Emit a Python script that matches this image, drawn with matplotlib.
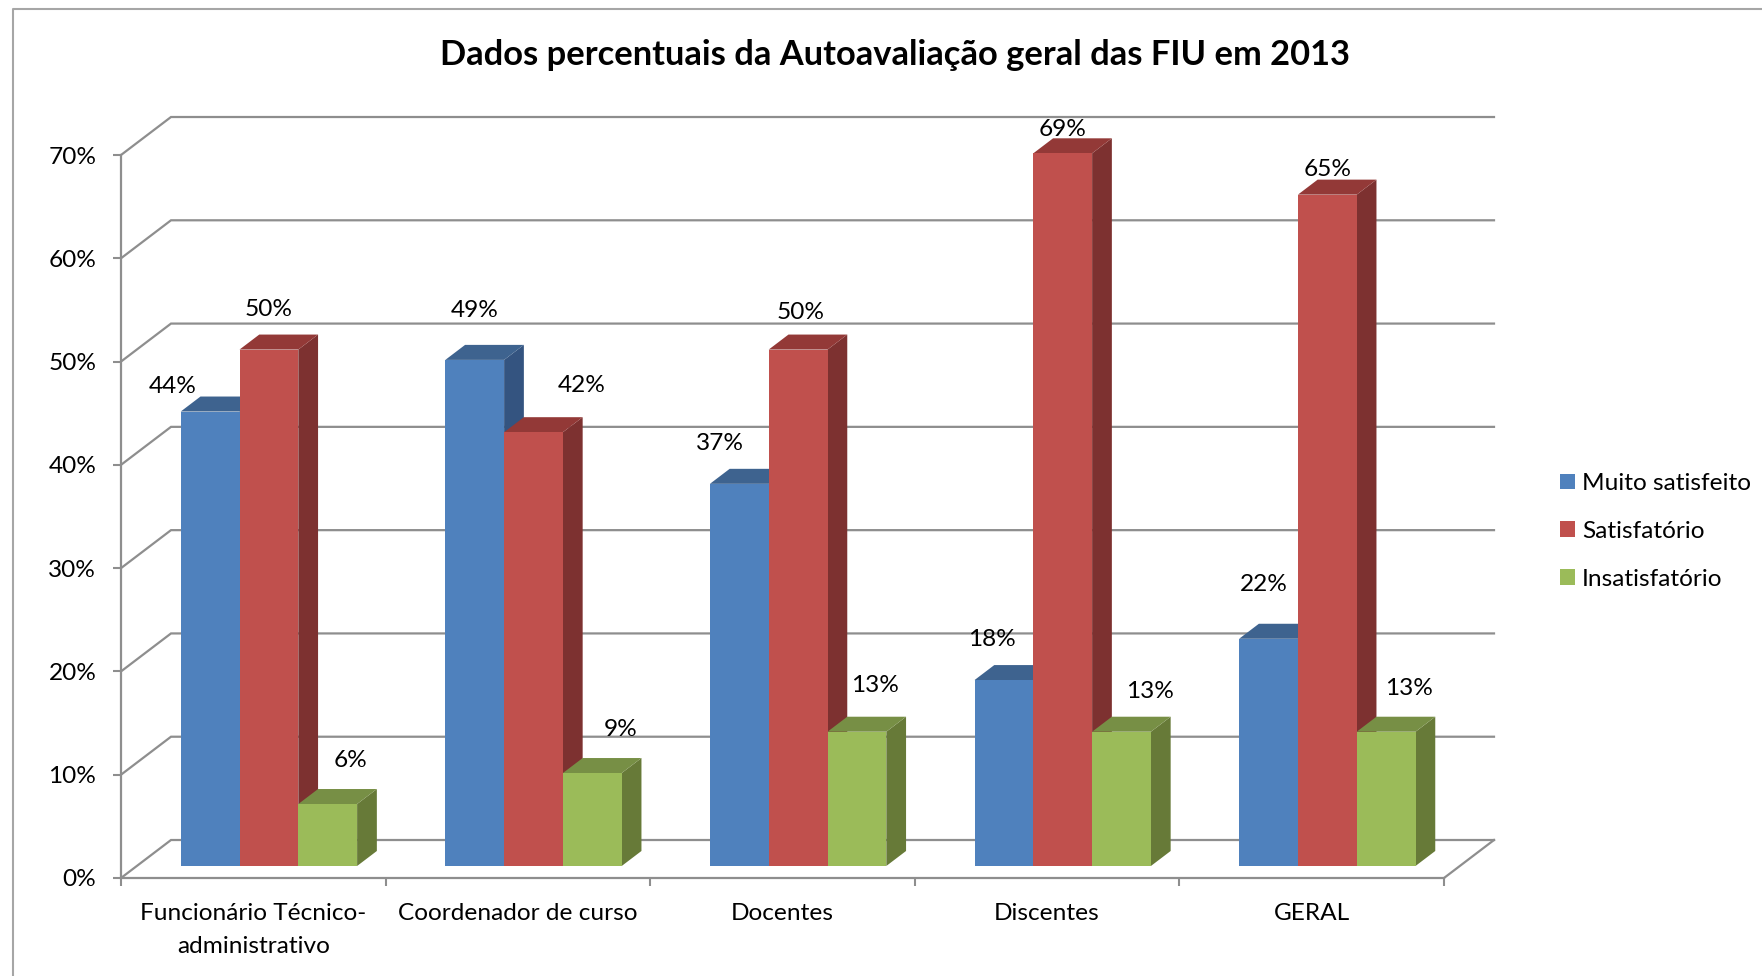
import matplotlib
matplotlib.use('Agg')
import matplotlib.pyplot as plt
from matplotlib.lines import Line2D
from matplotlib.patches import Patch

plt.rcParams['font.family'] = ['Lato', 'DejaVu Sans']

# Data
categories = ['Funcionário Técnico-\nadministrativo', 'Coordenador de curso', 'Docentes', 'Discentes', 'GERAL']
series_names = ['Muito satisfeito', 'Satisfatório', 'Insatisfatório']
muito_satisfeito = [44, 49, 37, 18, 22]
satisfatorio = [50, 42, 50, 69, 65]
insatisfatorio = [6, 9, 13, 13, 13]
y_ticks = [0, 10, 20, 30, 40, 50, 60, 70]
title = 'Dados percentuais da Autoavaliação geral das FIU em 2013'

# Colours: front, top, side
front_colors = ['#4F81BD', '#C0504D', '#9BBB59']
top_colors = ['#3E638F', '#933937', '#778F45']
side_colors = ['#345480', '#7D3130', '#677A38']
grid_color = '#8E8E8E'

W, H = 1762, 976
DPI = 100
FS = 17.6

# pixel shift of each data label from the top centre of its bar
label_shift = [
    [(-37, 25), (0, 40), (23, 44)],
    [(0, 49), (48, 47), (28, 44)],
    [(-19, 40), (2, 37), (18, 46)],
    [(-12, 41), (0, 24), (28, 40)],
    [(-5, 54), (0, 25), (23, 43)],
]

fig = plt.figure(figsize=(W / DPI, H / DPI), dpi=DPI, facecolor='white')
ax = fig.add_axes([121 / W, 1 - 878 / H, 1323 / W, 723 / H])
ax.set_xlim(0, len(categories))
ax.set_ylim(0, 70)
ax.patch.set_visible(False)

# oblique depth of the 3D box in data units
depth_x = 50 / 264.6
depth_y = 38 / 10.33

# back wall gridlines and left wall diagonals
for v in y_ticks:
    ax.plot([0, depth_x, len(categories) + depth_x], [v, v + depth_y, v + depth_y],
            color=grid_color, lw=1.6, clip_on=False, zorder=1, solid_joinstyle='miter')
# floor, right side
ax.plot([len(categories), len(categories) + depth_x], [0, depth_y],
        color=grid_color, lw=1.6, clip_on=False, zorder=1)

# bars
bar_w = 0.2222
group_start = 0.166
front_d = 0.316
bar_d = 0.395
z = 2
all_series = [muito_satisfeito, satisfatorio, insatisfatorio]
for g in range(len(categories)):
    for s, values in enumerate(all_series):
        v = values[g]
        x0 = g + group_start + s * bar_w + front_d * depth_x
        x1 = x0 + bar_w
        y0 = front_d * depth_y
        y1 = y0 + v
        ddx = bar_d * depth_x
        ddy = bar_d * depth_y
        ax.fill([x1, x1 + ddx, x1 + ddx, x1], [y0, y0 + ddy, y1 + ddy, y1],
                color=side_colors[s], lw=0, clip_on=False, zorder=z)
        ax.fill([x0, x1, x1 + ddx, x0 + ddx], [y1, y1, y1 + ddy, y1 + ddy],
                color=top_colors[s], lw=0, clip_on=False, zorder=z)
        ax.bar(x0, v, width=bar_w, bottom=y0, align='edge', color=front_colors[s],
               lw=0, clip_on=False, zorder=z)
        z += 1
        ax.annotate(f'{v}%', xy=((x0 + x1) / 2, y1), xytext=label_shift[g][s],
                    textcoords='offset pixels', ha='center', va='center',
                    fontsize=FS, color='black', zorder=100, annotation_clip=False)

# axes
for side in ['top', 'right']:
    ax.spines[side].set_visible(False)
for side in ['left', 'bottom']:
    ax.spines[side].set_color(grid_color)
    ax.spines[side].set_linewidth(1.6)
ax.set_yticks(y_ticks)
ax.set_yticklabels([f'{v}%' for v in y_ticks], fontsize=FS)
ax.tick_params(axis='y', length=5.8, width=1.5, color=grid_color, pad=12)
ax.set_xticks(range(len(categories) + 1))
ax.set_xticklabels([])
ax.set_xticks([i + 0.5 for i in range(len(categories))], minor=True)
ax.set_xticklabels(categories, minor=True, fontsize=FS, linespacing=1.68)
ax.tick_params(axis='x', which='major', length=5.8, width=1.5, color=grid_color)
ax.tick_params(axis='x', which='minor', length=0, pad=18)

# title
fig.text(895 / W, 1 - 55 / H, title, fontsize=24.8, fontweight='bold', ha='center', va='center')

# legend
handles = [Patch(facecolor=c, edgecolor='none') for c in front_colors]
fig.legend(handles, series_names, loc='upper left', bbox_to_anchor=(1560 / W, 1 - 473 / H),
           frameon=False, fontsize=FS, handlelength=0.61, handleheight=0.61,
           handletextpad=0.29, labelspacing=1.1, borderpad=0, borderaxespad=0)

# outer frame
fig.add_artist(Line2D([12.5 / W, 12.5 / W, 1], [0, 1 - 9 / H, 1 - 9 / H], color='#A6A6A6', lw=1.5))

fig.savefig('out.png', dpi=DPI)
